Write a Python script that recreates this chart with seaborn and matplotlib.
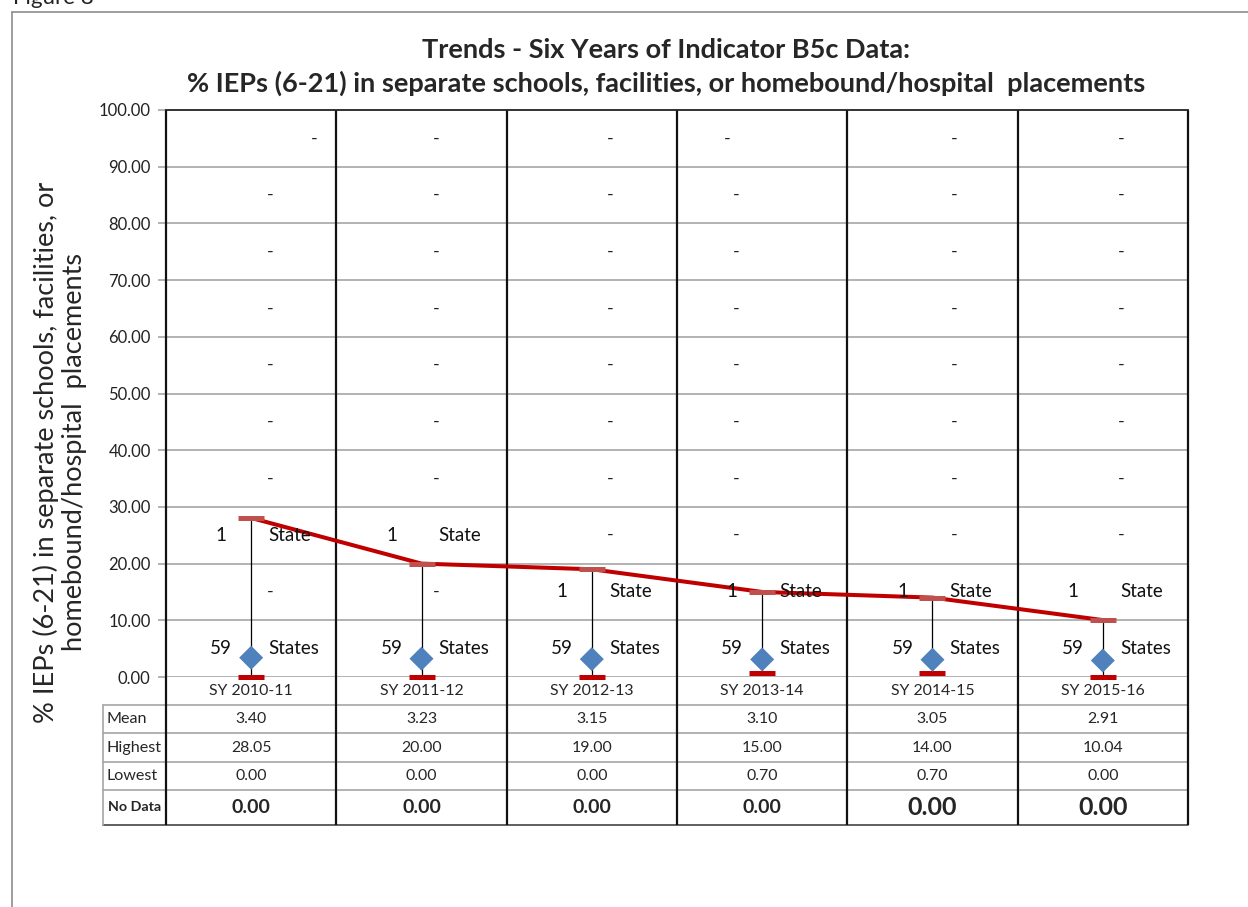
import matplotlib
matplotlib.use("Agg")
import matplotlib.pyplot as plt
from matplotlib.lines import Line2D
import pandas as pd
import seaborn as sns

# --- values ---
years = ["SY 2010-11", "SY 2011-12", "SY 2012-13", "SY 2013-14", "SY 2014-15", "SY 2015-16"]
mean_vals = [3.40, 3.23, 3.15, 3.10, 3.05, 2.91]
highest_vals = [28.05, 20.00, 19.00, 15.00, 14.00, 10.04]
lowest_vals = [0.00, 0.00, 0.00, 0.70, 0.70, 0.00]
no_data_vals = [0.00, 0.00, 0.00, 0.00, 0.00, 0.00]

# number of states falling in each 10-point band (0-10, 10-20, ... 90-100)
band_mids = [5, 15, 25, 35, 45, 55, 65, 75, 85, 95]
counts_2010 = [59, 0, 1, 0, 0, 0, 0, 0, 0, 0]
counts_2011 = [59, 0, 1, 0, 0, 0, 0, 0, 0, 0]
counts_2012 = [59, 1, 0, 0, 0, 0, 0, 0, 0, 0]
counts_2013 = [59, 1, 0, 0, 0, 0, 0, 0, 0, 0]
counts_2014 = [59, 1, 0, 0, 0, 0, 0, 0, 0, 0]
counts_2015 = [59, 1, 0, 0, 0, 0, 0, 0, 0, 0]
band_counts = [counts_2010, counts_2011, counts_2012, counts_2013, counts_2014, counts_2015]

title = ("Trends - Six Years of Indicator B5c Data:\n"
         "% IEPs (6-21) in separate schools, facilities, or homebound/hospital  placements")
ylabel = "% IEPs (6-21) in separate schools, facilities, or\nhomebound/hospital  placements"

# --- styling ---
W, H = 1248, 907
DARK_RED = "#C00000"
LIGHT_RED = "#C0504D"
BLUE = "#4F81BD"
GRID = "#A6A6A6"
PX = 0.72  # points per pixel at dpi 100

# label nudges (pixels) as seen in the picture
dash_dx = [19, 15, 18, -26, 22, 18]
top_dash_dx = [63, 15, 18, -35, 22, 18]
nodata_size = [14, 14, 14, 14, 18, 18]

sns.set_theme(style="white")
plt.rcParams["font.family"] = ["Lato", "DejaVu Sans"]

df = pd.DataFrame({
    "year": years,
    "x": range(len(years)),
    "mean": mean_vals,
    "highest": highest_vals,
    "lowest": lowest_vals,
})

fig = plt.figure(figsize=(W / 100, H / 100), dpi=100)
left, right, top, bottom = 166, 1188, 110, 677
ax = fig.add_axes([left / W, 1 - bottom / H, (right - left) / W, (bottom - top) / H])

ax.set_xlim(-0.5, 5.5)
ax.set_ylim(0, 100)
ax.set_yticks(range(0, 101, 10))
ax.set_yticklabels([f"{v:.2f}" for v in range(0, 101, 10)], fontsize=12, color="#222222")
ax.set_xticks([])
ax.tick_params(axis="y", length=6, width=1.2, color=GRID, pad=5, left=True)
ax.grid(False)
for v in range(0, 100, 10):
    ax.axhline(v, color=GRID, lw=1.2, zorder=1)
for side in ["left", "right", "bottom"]:
    ax.spines[side].set_visible(False)
ax.spines["top"].set_color("#222222")
ax.spines["top"].set_linewidth(1.3)

# table geometry in data units (y below 0 sits under the axis)
row_edges = [0, -4.94, -9.88, -15.0, -19.93, -26.1]
label_left = -0.5 - (left - 103) / ((right - left) / 6)

# category separators run through chart and table
for b in [i - 0.5 for i in range(len(years) + 1)]:
    ax.plot([b, b], [row_edges[-1], 100], color="#111111", lw=1.6,
            clip_on=False, zorder=2, solid_capstyle="butt")

# table rows
for k, yv in enumerate(row_edges[1:]):
    ax.plot([label_left, 5.5], [yv, yv], color=GRID if k < 4 else "#444444",
            lw=1.2, clip_on=False, zorder=1)
ax.plot([label_left, label_left], [row_edges[1], row_edges[-1]], color=GRID,
        lw=1.2, clip_on=False)

# high-low lines and markers
ax.vlines(df["x"], df["lowest"], df["highest"], color="black", lw=0.9, zorder=3)
sns.lineplot(data=df, x="x", y="highest", color=DARK_RED, lw=2.9,
             estimator=None, ax=ax, zorder=4)
ax.plot(df["x"], df["highest"], ls="none", marker="_", ms=26 * PX, mew=5 * PX,
        color=LIGHT_RED, zorder=5)
ax.plot(df["x"], df["lowest"], ls="none", marker="_", ms=26 * PX, mew=5 * PX,
        color=DARK_RED, zorder=5, clip_on=False)
sns.scatterplot(data=df, x="x", y="mean", marker="D", s=(17 * PX) ** 2,
                color=BLUE, edgecolor="none", ax=ax, zorder=6, legend=False)
ax.set_xlabel("")
ax.set_ylabel("")

# band count labels
for i, counts in enumerate(band_counts):
    for ym, c in zip(band_mids, counts):
        if c == 0:
            dx = top_dash_dx[i] if ym == 95 else dash_dx[i]
            ax.annotate("-", (i, ym), xytext=(dx * PX, 0), textcoords="offset points",
                        ha="center", va="center", fontsize=13, color="#222222", zorder=7)
        else:
            word = "State" if c == 1 else "States"
            ax.annotate(str(c), (i, ym), xytext=(-30 * PX, 0), textcoords="offset points",
                        ha="center", va="center", fontsize=13.5, color="#111111", zorder=7)
            ax.annotate(word, (i, ym), xytext=(17 * PX, 0), textcoords="offset points",
                        ha="left", va="center", fontsize=13.5, color="#111111", zorder=7)

# table text
def mid(r):
    return (row_edges[r] + row_edges[r + 1]) / 2

for i, yr in enumerate(years):
    ax.text(i, mid(0), yr, ha="center", va="center", fontsize=11.4, clip_on=False)
    ax.text(i, mid(1), f"{mean_vals[i]:.2f}", ha="center", va="center", fontsize=11.4, clip_on=False)
    ax.text(i, mid(2), f"{highest_vals[i]:.2f}", ha="center", va="center", fontsize=11.4, clip_on=False)
    ax.text(i, mid(3), f"{lowest_vals[i]:.2f}", ha="center", va="center", fontsize=11.4, clip_on=False)
    ax.text(i, mid(4), f"{no_data_vals[i]:.2f}", ha="center", va="center",
            fontsize=nodata_size[i], fontweight="bold", clip_on=False)
for r, lab in zip([1, 2, 3], ["Mean", "Highest", "Lowest"]):
    ax.text(label_left + 0.02, mid(r), lab, ha="left", va="center", fontsize=11.6, clip_on=False)
ax.text(label_left + 0.03, mid(4), "No Data", ha="left", va="center", fontsize=10.3,
        fontweight="bold", clip_on=False)

# titles and figure frame
fig.text(666 / W, 1 - 67 / H, title, ha="center", va="center", fontsize=19.5,
         fontweight="bold", linespacing=1.45)
fig.text(60 / W, 1 - 452 / H, ylabel, ha="center", va="center", rotation=90,
         fontsize=19.5, linespacing=1.15)
fig.text(13 / W, 1 - 4 / H, "Figure 8", ha="left", va="baseline", fontsize=16, color="#222222")
fig.add_artist(Line2D([12 / W, 1], [1 - 12 / H, 1 - 12 / H], transform=fig.transFigure,
                      color="#8C8C8C", lw=1.2))
fig.add_artist(Line2D([12 / W, 12 / W], [0, 1 - 12 / H], transform=fig.transFigure,
                      color="#8C8C8C", lw=1.2))

fig.savefig("out.png", dpi=100)
plt.close(fig)
